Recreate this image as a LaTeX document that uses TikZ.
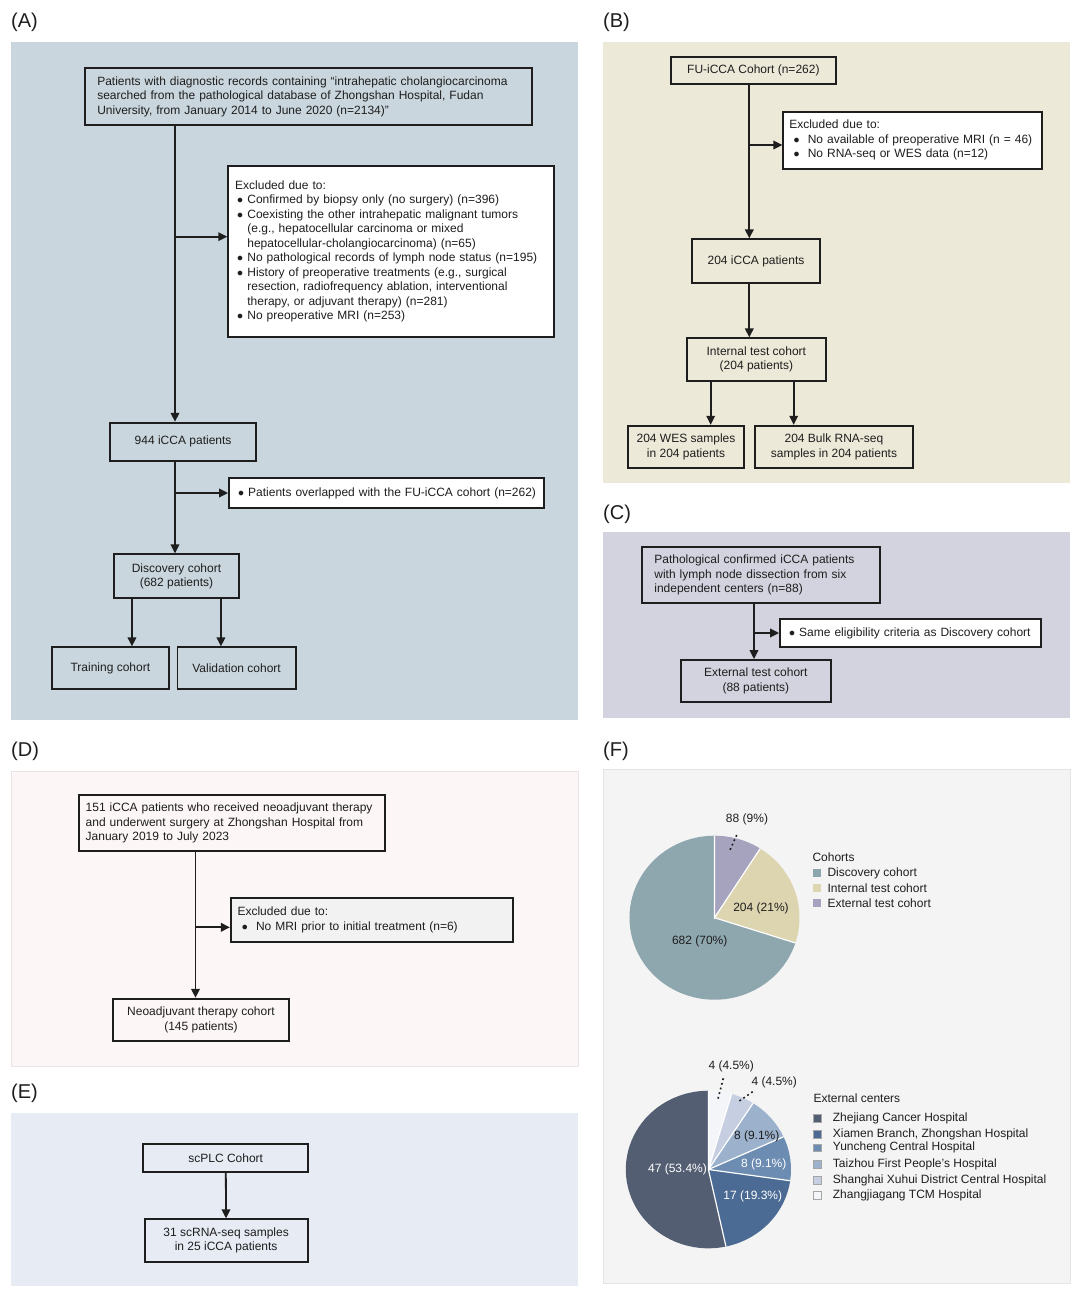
\documentclass[tikz,border=0pt]{standalone}
\usepackage{fontspec}
\setmainfont{Liberation Sans}
\usetikzlibrary{arrows.meta}

\setlength{\parindent}{0pt}

\definecolor{ink}{HTML}{1E1E1E}
\definecolor{bgA}{HTML}{C9D6DD}
\definecolor{bgB}{HTML}{EDE9D8}
\definecolor{bgC}{HTML}{D3D3DF}
\definecolor{bgD}{HTML}{FCF6F6}
\definecolor{bdD}{HTML}{EBE3E3}
\definecolor{bgE}{HTML}{E6EBF4}
\definecolor{bgF}{HTML}{F4F4F4}
\definecolor{bdF}{HTML}{E4E4E4}
\definecolor{exD}{HTML}{F2F2F2}
\definecolor{pteal}{HTML}{8EA7AE}
\definecolor{pbeige}{HTML}{DDD4B0}
\definecolor{ppurple}{HTML}{A6A3BF}
\definecolor{czj}{HTML}{545E73}
\definecolor{cxm}{HTML}{4B6B94}
\definecolor{cyc}{HTML}{6C8CB2}
\definecolor{ctz}{HTML}{9CB2CC}
\definecolor{csh}{HTML}{C6CEE1}
\definecolor{czg}{HTML}{F3F5F9}

\newcommand{\bitem}[1][2pt]{\hspace*{#1}\makebox[10.2pt][l]{$\bullet$}}
\newcommand{\bindent}[1][2pt]{\hspace*{\dimexpr#1+10.2pt\relax}}

\begin{document}
\begin{tikzpicture}[x=1pt, y=-1pt, font=\fontsize{12}{14.5}\selectfont, text=ink,
    box/.style={draw=ink, line width=1.8pt, inner sep=0pt, align=center},
    lbox/.style={box, align=left},
    arr/.style={draw=ink, line width=1.8pt, -{Triangle[length=9pt, width=8.5pt]}},
    panel/.style={font=\fontsize{20}{24}\selectfont, anchor=west, inner sep=0pt},
    slice/.style={draw=white, line width=1.2pt},
    lsq/.style={minimum size=8pt, inner sep=0pt},
    ltext/.style={anchor=west, inner sep=0pt},
    lead/.style={draw=ink, line width=1.6pt, dash pattern=on 1.8pt off 3pt}]

\useasboundingbox (0,0) rectangle (1080,1294);
\fill[white] (0,0) rectangle (1080,1294);

% panel backgrounds
\fill[bgA] (11,42) rectangle (578,720);
\fill[bgB] (602.7,41.7) rectangle (1070,482.7);
\fill[bgC] (602.7,531.7) rectangle (1070,718.3);
\filldraw[fill=bgD, draw=bdD] (11,770.7) rectangle (578,1066);
\fill[bgE] (11,1112.7) rectangle (578,1286);
\filldraw[fill=bgF, draw=bdF] (602.7,769.3) rectangle (1070,1283.3);

% panel labels
\node[panel] (labA) at (11,22) {(A)};
\node[panel] (labB) at (603,22) {(B)};
\node[panel] (labC) at (603,514) {(C)};
\node[panel] (labD) at (11,751) {(D)};
\node[panel] (labE) at (11,1093) {(E)};
\node[panel] (labF) at (603,751) {(F)};

% (A) discovery cohort
\node[lbox, inner xsep=12pt, text width=422.4pt, minimum height=56.7pt] (a1) at (308.5,96.65)
  {Patients with diagnostic records containing “intrahepatic cholangiocarcinoma\\
   searched from the pathological database of Zhongshan Hospital, Fudan\\
   University, from January 2014 to June 2020 (n=2134)”};
\node[lbox, fill=white, inner xsep=7pt, text width=311.4pt, minimum height=171.6pt] (aex) at (390.9,251.5)
  {Excluded due to:\\
   \bitem Confirmed by biopsy only (no surgery) (n=396)\\
   \bitem Coexisting the other intrahepatic malignant tumors\\
   \bindent (e.g., hepatocellular carcinoma or mixed\\
   \bindent hepatocellular-cholangiocarcinoma) (n=65)\\
   \bitem No pathological records of lymph node status (n=195)\\
   \bitem History of preoperative treatments (e.g., surgical\\
   \bindent resection, radiofrequency ablation, interventional\\
   \bindent therapy, or adjuvant therapy) (n=281)\\
   \bitem No preoperative MRI (n=253)};
\node[box, minimum width=145.8pt, minimum height=38.3pt] (a944) at (183.1,441.85) {944 iCCA patients};
\node[lbox, fill=white, inner xsep=7pt, text width=300.6pt, minimum height=29.4pt] (aover) at (386.3,493)
  {\bitem Patients overlapped with the FU-iCCA cohort (n=262)};
\node[box, minimum width=124.3pt, minimum height=44pt] (adisc) at (176.45,576.3) {Discovery cohort\\(682 patients)};
\node[box, minimum width=116.8pt, minimum height=42pt] (atrain) at (110.4,668.3) {Training cohort};
\node[box, minimum width=118.3pt, minimum height=42pt] (aval) at (236.55,668.3) {Validation cohort};

\coordinate (atrunk) at (175,0);
\coordinate (aexin) at ([yshift=14.8pt]aex.west);
\coordinate (atrL) at ([xshift=-44.5pt]adisc.south);
\coordinate (atrR) at ([xshift=44.5pt]adisc.south);
\draw[arr] (a1.south -| atrunk) -- (a944.north -| atrunk);
\draw[arr] (aexin -| atrunk) -- (aexin);
\draw[arr] (a944.south -| atrunk) -- (adisc.north -| atrunk);
\draw[arr] (aover.west -| atrunk) -- (aover.west);
\draw[arr] (atrL) -- (atrL |- atrain.north);
\draw[arr] (atrR) -- (atrR |- aval.north);

% (B) internal test cohort
\node[box, minimum width=164.7pt, minimum height=27.6pt] (b1) at (753.35,70.5) {FU-iCCA Cohort (n=262)};
\node[lbox, fill=white, inner xsep=6pt, text width=246.7pt, minimum height=57.3pt] (bex) at (912.65,140.35)
  {Excluded due to:\\
   \bitem[4.3pt] No available of preoperative MRI (n = 46)\\
   \bitem[4.3pt] No RNA-seq or WES data (n=12)};
\node[box, minimum width=128pt, minimum height=43.4pt] (b204) at (756,261) {204 iCCA patients};
\node[box, minimum width=138.7pt, minimum height=42.4pt] (bint) at (756.35,359.5) {Internal test cohort\\(204 patients)};
\node[box, minimum width=115.4pt, minimum height=42pt] (bwes) at (686,446.7) {204 WES samples\\in 204 patients};
\node[box, minimum width=158.6pt, minimum height=42pt] (bbulk) at (834,446.7) {204 Bulk RNA-seq\\samples in 204 patients};

\coordinate (btrunk) at (749.3,0);
\coordinate (bexin) at ([yshift=-4.65pt]bex.west);
\coordinate (bwesin) at (710.7,0);
\coordinate (bbulkin) at (793.7,0);
\draw[arr] (b1.south -| btrunk) -- (b204.north -| btrunk);
\draw[arr] (bexin -| btrunk) -- (bexin);
\draw[arr] (b204.south -| btrunk) -- (bint.north -| btrunk);
\draw[arr] (bint.south -| bwesin) -- (bwes.north -| bwesin);
\draw[arr] (bint.south -| bbulkin) -- (bbulk.north -| bbulkin);

% (C) external test cohort
\node[lbox, inner xsep=12.6pt, text width=213pt, minimum height=56pt] (c1) at (760.85,575.3)
  {Pathological confirmed iCCA patients\\
   with lymph node dissection from six\\
   independent centers (n=88)};
\node[lbox, fill=white, inner xsep=7pt, text width=246.7pt, minimum height=27.4pt] (cex) at (910.35,633)
  {\bitem Same eligibility criteria as Discovery cohort};
\node[box, minimum width=150.3pt, minimum height=41.7pt] (cext) at (755.85,680.85) {External test cohort\\(88 patients)};

\coordinate (ctrunk) at (754,0);
\draw[arr] (c1.south -| ctrunk) -- (cext.north -| ctrunk);
\draw[arr] (cex.west -| ctrunk) -- (cex.west);

% (D) neoadjuvant therapy cohort
\node[lbox, inner xsep=6.7pt, text width=292.4pt, minimum height=56pt] (d1) at (231.9,823)
  {151 iCCA patients who received neoadjuvant therapy\\
   and underwent surgery at Zhongshan Hospital from\\
   January 2019 to July 2023};
\node[lbox, fill=exD, inner xsep=6.7pt, text width=269pt, minimum height=43.4pt] (dex) at (372,920)
  {Excluded due to:\\
   \bitem[4.3pt] No MRI prior to initial treatment (n=6)};
\node[box, minimum width=175.5pt, minimum height=42pt] (dneo) at (200.95,1019.7) {Neoadjuvant therapy cohort\\(145 patients)};

\coordinate (dtrunk) at (195.5,0);
\coordinate (dexin) at ([yshift=-7.3pt]dex.west);
\draw[arr] (d1.south -| dtrunk) -- (dneo.north -| dtrunk);
\draw[arr] (dexin -| dtrunk) -- (dexin);

% (E) single-cell cohort
\node[box, minimum width=165.1pt, minimum height=27.7pt] (e1) at (225.75,1158.15) {scPLC Cohort};
\node[box, minimum width=162.9pt, minimum height=42.4pt] (e2) at (226.15,1240.5) {31 scRNA-seq samples\\in 25 iCCA patients};
\draw[arr] (e1) -- (e2);

% (F) cohort pie
\begin{scope}[shift={(714.5,917.7)}, y=1pt]
  \fill[pteal] (0,0) -- (-17.93:85 and 82) arc[start angle=-17.93, end angle=-270, x radius=85, y radius=82] -- cycle;
  \fill[pbeige] (0,0) -- (57.47:85 and 82) arc[start angle=57.47, end angle=-17.93, x radius=85, y radius=82] -- cycle;
  \fill[ppurple] (0,0) -- (90:85 and 82) arc[start angle=90, end angle=57.47, x radius=85, y radius=82] -- cycle;
  \draw[slice] (90:85 and 82) -- (0,0) -- (57.47:85 and 82) (0,0) -- (-17.93:85 and 82);
\end{scope}
\node (p88) at (747,819.5) {88 (9\%)};
\node (p204) at (761,908.3) {204 (21\%)};
\node (p682) at (699.7,941) {682 (70\%)};
\coordinate (p88a) at (736.7,835);
\coordinate (p88b) at (730,850);
\draw[lead] (p88a) -- (p88b);

\node[ltext] (lgc) at (812.3,856.7) {Cohorts};
\node[lsq, fill=pteal] (lgc1) at (816.7,873.3) {};
\node[lsq, fill=pbeige] (lgc2) at (816.7,888.3) {};
\node[lsq, fill=ppurple] (lgc3) at (816.7,903.3) {};
\node[ltext] at (827.3,873.3) {Discovery cohort};
\node[ltext] at (827.3,888.3) {Internal test cohort};
\node[ltext] at (827.3,903.3) {External test cohort};

% (F) external centers pie
\begin{scope}[shift={(708.4,1169.5)}, y=1pt]
  \fill[czj] (0,0) -- (-77.73:82.6 and 78.8) arc[start angle=-77.73, end angle=-270, x radius=82.6, y radius=78.8] -- cycle;
  \fill[cxm] (0,0) -- (-8.18:82.6 and 78.8) arc[start angle=-8.18, end angle=-77.73, x radius=82.6, y radius=78.8] -- cycle;
  \fill[cyc] (0,0) -- (24.55:82.6 and 78.8) arc[start angle=24.55, end angle=-8.18, x radius=82.6, y radius=78.8] -- cycle;
  \fill[ctz] (0,0) -- (57.27:82.6 and 78.8) arc[start angle=57.27, end angle=24.55, x radius=82.6, y radius=78.8] -- cycle;
  \fill[csh] (0,0) -- (73.64:82.6 and 78.8) arc[start angle=73.64, end angle=57.27, x radius=82.6, y radius=78.8] -- cycle;
  \fill[czg] (0,0) -- (90:82.6 and 78.8) arc[start angle=90, end angle=73.64, x radius=82.6, y radius=78.8] -- cycle;
  \draw[slice] (0,0) -- (90:82.6 and 78.8) (0,0) -- (73.64:82.6 and 78.8) (0,0) -- (57.27:82.6 and 78.8)
    (0,0) -- (24.55:82.6 and 78.8) (0,0) -- (-8.18:82.6 and 78.8) (0,0) -- (-77.73:82.6 and 78.8);
\end{scope}
\node (q4a) at (731.2,1066) {4 (4.5\%)};
\node (q4b) at (774.2,1082.7) {4 (4.5\%)};
\node (q8a) at (756.7,1136.7) {8 (9.1\%)};
\node[text=white] (q8b) at (763.7,1164.3) {8 (9.1\%)};
\node[text=white] (q47) at (677.5,1169.3) {47 (53.4\%)};
\node[text=white] (q17) at (752.8,1196.7) {17 (19.3\%)};
\coordinate (q4aa) at (723.3,1078.3);
\coordinate (q4ab) at (717.7,1100);
\coordinate (q4ba) at (752.7,1091.7);
\coordinate (q4bb) at (738.3,1101.7);
\draw[lead] (q4aa) -- (q4ab);
\draw[lead] (q4ba) -- (q4bb);

\node[ltext] (lge) at (813.3,1098.3) {External centers};
\node[lsq, minimum size=7.5pt, fill=czj, draw=gray!70, line width=0.5pt] (lge1) at (817.4,1118.3) {};
\node[lsq, minimum size=7.5pt, fill=cxm, draw=gray!70, line width=0.5pt] (lge2) at (817.4,1134.3) {};
\node[lsq, minimum size=7.5pt, fill=cyc, draw=gray!70, line width=0.5pt] (lge3) at (817.4,1147.7) {};
\node[lsq, minimum size=7.5pt, fill=ctz, draw=gray!70, line width=0.5pt] (lge4) at (817.4,1164) {};
\node[lsq, minimum size=7.5pt, fill=csh, draw=gray!70, line width=0.5pt] (lge5) at (817.4,1180) {};
\node[lsq, minimum size=7.5pt, fill=czg, draw=gray!70, line width=0.5pt] (lge6) at (817.4,1195) {};
\node[ltext] at (832.7,1118.3) {Zhejiang Cancer Hospital};
\node[ltext] at (832.7,1134.3) {Xiamen Branch, Zhongshan Hospital};
\node[ltext] at (832.7,1147.7) {Yuncheng Central Hospital};
\node[ltext] at (832.7,1164) {Taizhou First People's Hospital};
\node[ltext] at (832.7,1180) {Shanghai Xuhui District Central Hospital};
\node[ltext] at (832.7,1195) {Zhangjiagang TCM Hospital};
\end{tikzpicture}
\end{document}
